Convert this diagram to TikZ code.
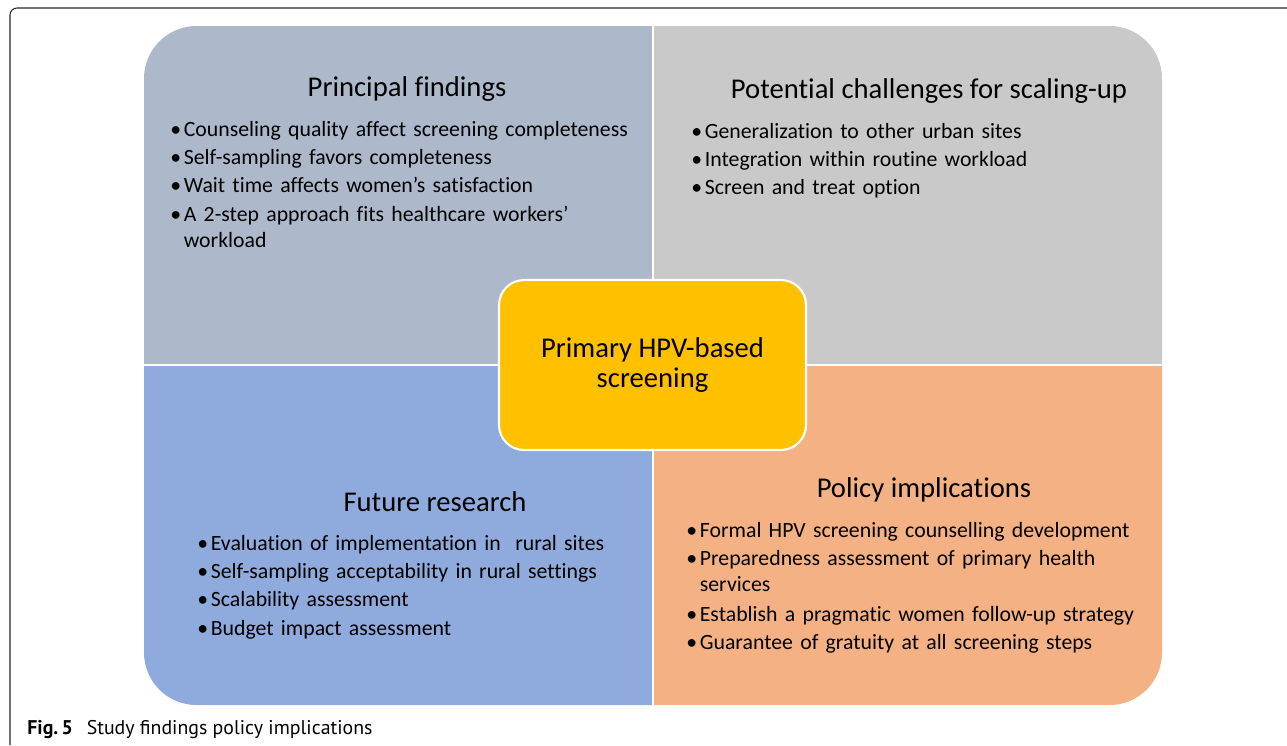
\documentclass[tikz,border=0pt]{standalone}
\usepackage{fontspec}
\setmainfont[Ligatures=NoCommon]{Carlito}
\newfontfamily\capfont{PT Sans}
\usepackage{tikz}
\usetikzlibrary{positioning, calc}
\definecolor{findgray}{HTML}{ADB9CA}
\definecolor{challgray}{HTML}{C9C9C9}
\definecolor{resblue}{HTML}{8FAADC}
\definecolor{policyorange}{HTML}{F4B183}
\definecolor{hubyellow}{HTML}{FFC000}
\newcommand{\bitem}[1]{\par\noindent\makebox[0.62em][l]{\textbullet}\parbox[t]{10cm}{\raggedright\strut #1\strut}}
\newcommand{\listsetup}{\setlength{\parskip}{1.3pt}\hyphenpenalty=10000\relax}
\tikzset{
    quadtitle/.style={font=\fontsize{16.3}{19}\selectfont, inner sep=0pt},
    quadlist/.style={font=\fontsize{12.4}{14.8}\selectfont, align=left, anchor=north west, inner sep=0pt, text width=11cm},
    hub/.style={draw=white, line width=1.2pt, fill=hubyellow, rounded corners=0.5cm, minimum width=6.14cm, minimum height=3.4cm, align=center, font=\fontsize{16.3}{17}\selectfont},
    frameline/.style={draw=black!85, line width=0.6pt, rounded corners=0.14cm},
}
\begin{document}
\begin{tikzpicture}[x=0.02cm, y=-0.02cm]
        \useasboundingbox (0,0) rectangle (1287,745);
        % Rahmen der Abbildung
        \draw[frameline] (10,745) -- (10,8) -- (1287,8);
        % Quadranten
        \begin{scope}
            \clip (144,26) rectangle (653,365);
            \fill[findgray, rounded corners=1.05cm] (144,26) rectangle (1162,705);
        \end{scope}
        \begin{scope}
            \clip (653,26) rectangle (1162,365);
            \fill[challgray, rounded corners=1.05cm] (144,26) rectangle (1162,705);
        \end{scope}
        \begin{scope}
            \clip (144,365) rectangle (653,705);
            \fill[resblue, rounded corners=1.05cm] (144,26) rectangle (1162,705);
        \end{scope}
        \begin{scope}
            \clip (653,365) rectangle (1162,705);
            \fill[policyorange, rounded corners=1.05cm] (144,26) rectangle (1162,705);
        \end{scope}
        \draw[white, line width=1.2pt] (653,24) -- (653,707);
        \draw[white, line width=1.2pt] (142,365) -- (1164,365);
        % Titel und Listen
        \node[quadtitle] (findt) at (407,89) {Principal findings};
        \node[quadlist] (findl) at (170,107.5) {\listsetup
            \bitem{Counseling quality affect screening completeness}
            \bitem{Self-sampling favors completeness}
            \bitem{Wait time affects women’s satisfaction}
            \bitem{A 2-step approach fits healthcare workers’\\workload}};
        \node[quadtitle] (challt) at (929,91) {Potential challenges for scaling-up};
        \node[quadlist] (challl) at (691,109.5) {\listsetup
            \bitem{Generalization to other urban sites}
            \bitem{Integration within routine workload}
            \bitem{Screen and treat option}};
        \node[quadtitle] (rest) at (435,502) {Future research};
        \node[quadlist] (resl) at (197,521.5) {\listsetup
            \bitem{Evaluation of implementation in\ \ rural sites}
            \bitem{Self-sampling acceptability in rural settings}
            \bitem{Scalability assessment}
            \bitem{Budget impact assessment}};
        \node[quadtitle] (polt) at (924,490) {Policy implications};
        \node[quadlist] (poll) at (686,508.5) {\listsetup
            \bitem{Formal HPV screening counselling development}
            \bitem{Preparedness assessment of primary health\\services}
            \bitem{Establish a pragmatic women follow-up strategy}
            \bitem{Guarantee of gratuity at all screening steps}};
        % Mitte
        \node[hub] (hpv) at (652.5,365) {Primary HPV-based\\screening};
        % Legende
        \node[anchor=base west, inner sep=0pt, font=\capfont\fontsize{11.3}{13}\selectfont] (cap) at (27,734) {\textbf{Fig.\,5}\hspace{0.7em}Study findings policy implications};
    \end{tikzpicture}
\end{document}
